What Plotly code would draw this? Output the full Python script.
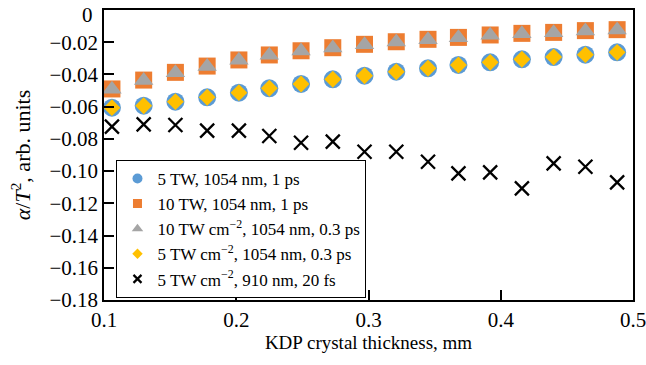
import plotly.graph_objects as go

# ---- data ----
thickness_mm = [0.106, 0.130, 0.154, 0.178, 0.202, 0.225, 0.249, 0.273, 0.297,
                0.321, 0.345, 0.368, 0.392, 0.416, 0.440, 0.464, 0.488]

s5tw_1054_1ps = [-0.0606, -0.0594, -0.0569, -0.0542, -0.0513, -0.0486, -0.0459, -0.0430, -0.0408,
                 -0.0383, -0.0362, -0.0341, -0.0325, -0.0306, -0.0292, -0.0277, -0.0263]
s10tw_1054_1ps = [-0.0490, -0.0435, -0.0387, -0.0348, -0.0310, -0.0279, -0.0253, -0.0234, -0.0213,
                  -0.0197, -0.0182, -0.0170, -0.0155, -0.0145, -0.0139, -0.0128, -0.0122]
s10tw_1054_03ps = [-0.0492, -0.0437, -0.0389, -0.0350, -0.0312, -0.0281, -0.0255, -0.0236, -0.0215,
                   -0.0199, -0.0184, -0.0172, -0.0157, -0.0147, -0.0141, -0.0130, -0.0124]
s5tw_1054_03ps = [-0.0606, -0.0594, -0.0569, -0.0542, -0.0513, -0.0486, -0.0459, -0.0430, -0.0408,
                  -0.0383, -0.0362, -0.0341, -0.0325, -0.0306, -0.0292, -0.0277, -0.0263]
s5tw_910_20fs = [-0.0724, -0.0710, -0.0714, -0.0749, -0.0749, -0.0782, -0.0824, -0.0817, -0.0880,
                 -0.0880, -0.0942, -0.1014, -0.1008, -0.1107, -0.0952, -0.0973, -0.1070]

series_names = [
    "5 TW, 1054 nm, 1 ps",
    "10 TW, 1054 nm, 1 ps",
    "10 TW cm<sup>−2</sup>, 1054 nm, 0.3 ps",
    "5 TW cm<sup>−2</sup>, 1054 nm, 0.3 ps",
    "5 TW cm<sup>−2</sup>, 910 nm, 20 fs",
]

y_tickvals = [0, -0.02, -0.04, -0.06, -0.08, -0.10, -0.12, -0.14, -0.16, -0.18]
y_ticktext = ["0", "−0.02", "−0.04", "−0.06", "−0.08", "−0.10", "−0.12", "−0.14", "−0.16", "−0.18"]
x_tickvals = [0.1, 0.2, 0.3, 0.4, 0.5]
x_ticktext = ["0.1", "0.2", "0.3", "0.4", "0.5"]

FONT = "Liberation Serif"

styles = [
    dict(symbol="circle", color="#5B9BD5", size=18, lsize=10),
    dict(symbol="square", color="#ED7D31", size=17, lsize=9),
    dict(symbol="triangle-up", color="#A5A5A5", size=17, lsize=10),
    dict(symbol="diamond", color="#FFC000", size=13, lsize=8),
    dict(symbol="x-thin", color="black", size=14, lsize=8),
]
datasets = [s5tw_1054_1ps, s10tw_1054_1ps, s10tw_1054_03ps, s5tw_1054_03ps, s5tw_910_20fs]

fig = go.Figure()
for name, ys, st in zip(series_names, datasets, styles):
    if st["symbol"] == "x-thin":
        marker = dict(symbol="x-thin", size=st["size"], color="black",
                      line=dict(color="black", width=2.3))
        lmarker = dict(symbol="x-thin", size=st["lsize"], color="black",
                       line=dict(color="black", width=2.2))
    else:
        marker = dict(symbol=st["symbol"], size=st["size"], color=st["color"], line=dict(width=0))
        lmarker = dict(symbol=st["symbol"], size=st["lsize"], color=st["color"], line=dict(width=0))
    fig.add_trace(go.Scatter(x=thickness_mm, y=ys, mode="markers", marker=marker,
                             name=name, showlegend=False, cliponaxis=False))
    fig.add_trace(go.Scatter(x=[None], y=[None], mode="markers", marker=lmarker,
                             name=name, showlegend=True))

axis_common = dict(
    showgrid=False, zeroline=False, showline=True, linecolor="black", linewidth=1.5,
    mirror=True, ticks="inside", ticklen=10, tickwidth=1.5, tickcolor="black",
    tickfont=dict(family=FONT, size=21, color="black"),
    ticklabeloverflow="allow", automargin=False,
)

# the top "0" label sits a little lower than its tick (drawn as annotation so it stays inside the page)
y_ticktext_axis = [""] + y_ticktext[1:]

fig.update_xaxes(range=[0.1, 0.5], tickvals=x_tickvals, ticktext=x_ticktext,
                 title=dict(text="KDP crystal thickness, mm",
                            font=dict(family=FONT, size=19, color="black"), standoff=4),
                 **axis_common)
fig.update_yaxes(range=[-0.18, 0], tickvals=y_tickvals, ticktext=y_ticktext_axis,
                 title=dict(text="<i>α</i>/<i>T</i><sup>2</sup>, arb. units",
                            font=dict(family=FONT, size=22, color="black"), standoff=13),
                 **axis_common)

fig.add_annotation(x=0, xref="paper", y=y_tickvals[0], yref="y", text=y_ticktext[0],
                   showarrow=False, xanchor="right", yanchor="middle", xshift=-9, yshift=-5,
                   font=dict(family=FONT, size=21, color="black"))

fig.update_layout(
    width=646, height=365,
    margin=dict(l=104, r=13, t=10, b=65),
    paper_bgcolor="white", plot_bgcolor="white",
    font=dict(family=FONT, color="black"),
    legend=dict(x=0.0236, y=0.483, xanchor="left", yanchor="top",
                bgcolor="white", bordercolor="black", borderwidth=1,
                font=dict(family=FONT, size=17, color="black"),
                itemwidth=30, tracegroupgap=0),
)

fig.write_html("out.html")
